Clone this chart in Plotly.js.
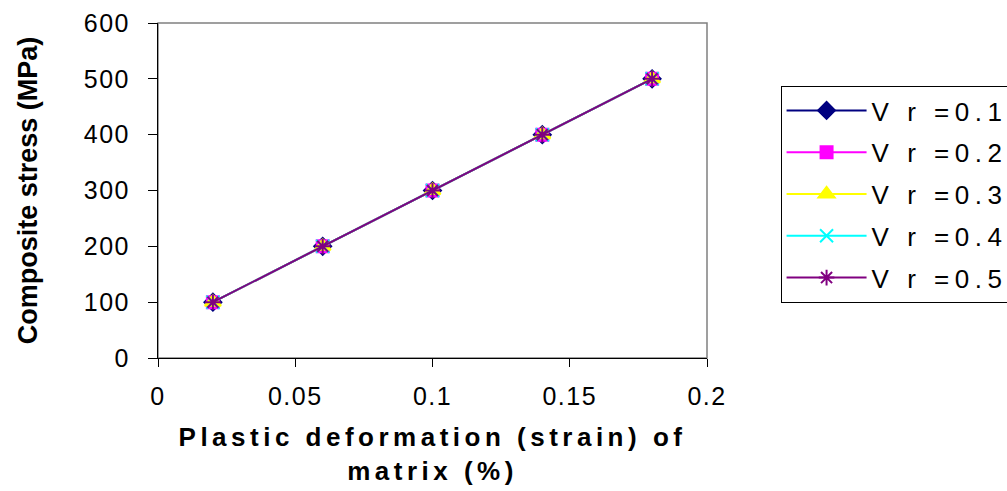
<!DOCTYPE html>
<html><head><meta charset="utf-8">
<script src="https://cdn.plot.ly/plotly-3.0.1.min.js"></script>
<style>
body{margin:0;background:#fff}#c{width:1007px;height:491px}
.legendtext{letter-spacing:5.5px}
.g-xtitle text{letter-spacing:4.5px}
.xtick text,.ytick text{letter-spacing:1.5px}
</style>
</head><body><div id="c"></div>
<script>
const strain = [0.02, 0.06, 0.1, 0.14, 0.18];
const stressVr01 = [100, 200, 300, 400, 500];
const stressVr02 = [100, 200, 300, 400, 500];
const stressVr03 = [100, 200, 300, 400, 500];
const stressVr04 = [100, 200, 300, 400, 500];
const stressVr05 = [100, 200, 300, 400, 500];
const seriesNames = ['V r =0.1', 'V r =0.2', 'V r =0.3', 'V r =0.4', 'V r =0.5'];
const xTicks = [0, 0.05, 0.1, 0.15, 0.2];
const xTickText = ['0', '0.05', '0.1', '0.15', '0.2'];
const yTicks = [0, 100, 200, 300, 400, 500, 600];

const ys = [stressVr01, stressVr02, stressVr03, stressVr04, stressVr05];
const colors = ['#000080', '#FF00FF', '#FFFF00', '#00FFFF', '#800080'];
const symbols = ['diamond', 'square', 'triangle-up', 'x-thin-open', 'asterisk-open'];
const sizes = [13, 12, 14, 13, 13];

const traces = ys.map((y, i) => ({
  x: strain, y: y, name: seriesNames[i], type: 'scatter', mode: 'lines+markers',
  legendgroup: 'g' + i,
  line: {color: colors[i], width: 2},
  marker: {symbol: symbols[i], size: sizes[i], color: colors[i], line: {color: colors[i], width: 2}}
}));

const layout = {
  width: 1007, height: 491,
  margin: {l: 158, r: 300, t: 23, b: 133, autoexpand: false},
  paper_bgcolor: '#fff', plot_bgcolor: '#fff',
  font: {family: 'Arial, Liberation Sans, sans-serif', color: '#000', size: 25},
  showlegend: true,
  legend: {x: 1.134, y: 0.812, xanchor: 'left', yanchor: 'top',
    bordercolor: '#000', borderwidth: 1, bgcolor: '#fff',
    font: {size: 26, family: 'Arial, Liberation Sans, sans-serif'},
    traceorder: 'grouped', tracegroupgap: 5, itemwidth: 80},
  xaxis: {range: [0, 0.2], tickvals: xTicks, ticktext: xTickText, ticks: 'outside', ticklen: 8,
    tickcolor: '#000', showline: true, linecolor: '#000', linewidth: 1, showgrid: false, zeroline: false,
    tickfont: {size: 25}, ticklabelstandoff: 8,
    title: {text: '<b>Plastic deformation (strain) of<br>matrix (%)</b>', font: {size: 26}, standoff: 18}},
  yaxis: {range: [0, 600], tickvals: yTicks, ticks: 'outside', ticklen: 9,
    tickcolor: '#000', showline: true, linecolor: '#000', linewidth: 1, showgrid: false, zeroline: false,
    tickfont: {size: 25}, ticklabelstandoff: 13,
    title: {text: '<b>Composite stress (MPa)</b>', font: {size: 27}, standoff: 38}},
  shapes: [{type: 'rect', xref: 'paper', yref: 'paper', x0: 0, x1: 1, y0: 0, y1: 1,
    line: {color: '#808080', width: 1.5}, layer: 'below'}]
};
Plotly.newPlot('c', traces, layout, {displayModeBar: false, staticPlot: true});
</script></body></html>
